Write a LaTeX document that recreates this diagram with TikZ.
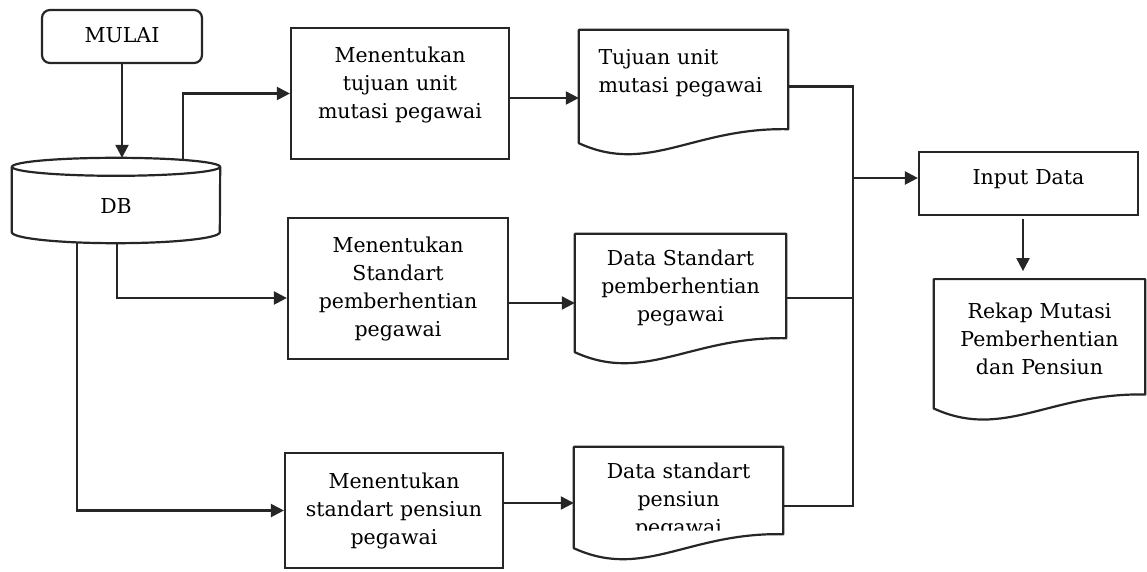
\documentclass[tikz,border=0pt]{standalone}
\usepackage{fontspec}
\setmainfont{DejaVu Serif}
\usetikzlibrary{arrows.meta,positioning}

\begin{document}
\begin{tikzpicture}[
  x=1pt, y=1pt,
  font=\fontsize{20.5}{28}\selectfont,
  >={Triangle[length=13pt,width=13pt]},
  conn/.style={line width=2.2pt, draw=black!85},
  edge/.style={conn, ->},
  lift/.style={text height=0pt, text depth=#1},
  drop/.style={text height=#1, text depth=0pt},
  proc/.style={
    rectangle, conn, inner sep=0pt, align=center, text width=200pt,
    text=black},
  terminal/.style={proc, rounded corners=8pt, text width=140pt},
  doc/.style={
    rectangle, inner sep=0pt, align=center, text width=190pt, text=black,
    append after command={\pgfextra{\let\docnode\tikzlastnode
      \draw[conn, line join=round] (\docnode.south west) -- (\docnode.north west)
        -- (\docnode.north east) -- ([yshift=14pt]\docnode.south east)
        .. controls ([shift={(-95pt,16pt)}]\docnode.south east)
        and ([shift={(70pt,-32pt)}]\docnode.south west) .. cycle;}}},
  dbase/.style={
    rectangle, inner sep=0pt, align=center, text=black,
    append after command={\pgfextra{\let\dbnode\tikzlastnode
      \draw[conn] ([yshift=-9pt]\dbnode.north) ellipse [x radius=104pt, y radius=9pt];
      \draw[conn] ([yshift=-9pt]\dbnode.north west) -- ([yshift=11pt]\dbnode.south west)
        arc [start angle=180, end angle=360, x radius=104pt, y radius=11pt]
        -- ([yshift=-9pt]\dbnode.north east);}}},
]
\useasboundingbox (0,0) rectangle (1147,-572);

% ---- Start + database ----
\node[terminal, minimum width=160pt, minimum height=53pt, drop=13pt] (mulai) at (122,-36.5) {MULAI};
\node[dbase, minimum width=208pt, minimum height=85pt, drop=25pt] (db) at (116,-200.5) {DB};

% ---- Processes ----
\node[proc, minimum width=218pt, minimum height=131pt, lift=61pt] (tujuan) at (400,-93.5)
  {Menentukan\\tujuan unit\\mutasi pegawai};
\node[proc, minimum width=220pt, minimum height=141pt, lift=73pt] (henti) at (398,-288.5)
  {Menentukan\\Standart\\pemberhentian\\pegawai};
\node[proc, minimum width=218pt, minimum height=115pt, lift=45pt] (pensiun) at (394,-510.5)
  {Menentukan\\standart pensiun\\pegawai};

% ---- Documents ----
\node[doc, minimum width=209pt, minimum height=113pt, text width=170pt, align=left, lift=43pt]
  (dtujuan) at (683.5,-86.5) {Tujuan unit\\mutasi pegawai};
\node[doc, minimum width=211pt, minimum height=118pt, lift=56pt] (dhenti) at (680.5,-293)
  {Data Standart\\pemberhentian\\pegawai};
\node[doc, minimum width=209pt, minimum height=101pt, lift=39pt] (dpensiun) at (678.5,-497.5)
  {Data standart\\pensiun\\pegawai};
\fill[white] (628,-530.5) rectangle (728,-535.5) (628,-535) rectangle (692,-541.5);

% ---- Output ----
\node[proc, minimum width=219pt, minimum height=63pt, drop=3pt] (input) at (1028.5,-183.5) {Input Data};
\node[doc, minimum width=211pt, minimum height=129pt, lift=51pt, below=63pt of input, xshift=11pt]
  (rekap) {Rekap Mutasi\\Pemberhentian\\dan Pensiun};

% ---- Edges ----
\draw[edge] (mulai.south) -- (mulai.south |- db.north);
\draw[edge] ([xshift=67pt,yshift=-2pt]db.north) |- (tujuan.west);
\draw[edge] ([xshift=1pt]db.south) |- ([yshift=-9.5pt]henti.west);
\draw[edge] ([xshift=-39pt,yshift=1pt]db.south) |- (pensiun.west);
\draw[edge] ([yshift=-4.5pt]tujuan.east) -- ([yshift=-4.5pt]tujuan.east -| dtujuan.west);
\draw[edge] ([yshift=-14.5pt]henti.east) -- ([yshift=-14.5pt]henti.east -| dhenti.west);
\draw[edge] ([yshift=7.5pt]pensiun.east) -- ([yshift=7.5pt]pensiun.east -| dpensiun.west);

% ---- Collector bus ----
\coordinate (bus) at (853,-178);
\draw[conn] (dtujuan.east) -| (bus);
\draw[conn] ([yshift=-5pt]dhenti.east) -| (bus);
\draw[conn] ([yshift=-8.5pt]dpensiun.east) -| (bus);
\draw[edge] (bus) -- (bus -| input.west);
\draw[edge, shorten <=3pt, shorten >=8pt] ([xshift=-5.5pt]input.south) -- ([xshift=-5.5pt]input.south |- rekap.north);

\end{tikzpicture}
\end{document}
